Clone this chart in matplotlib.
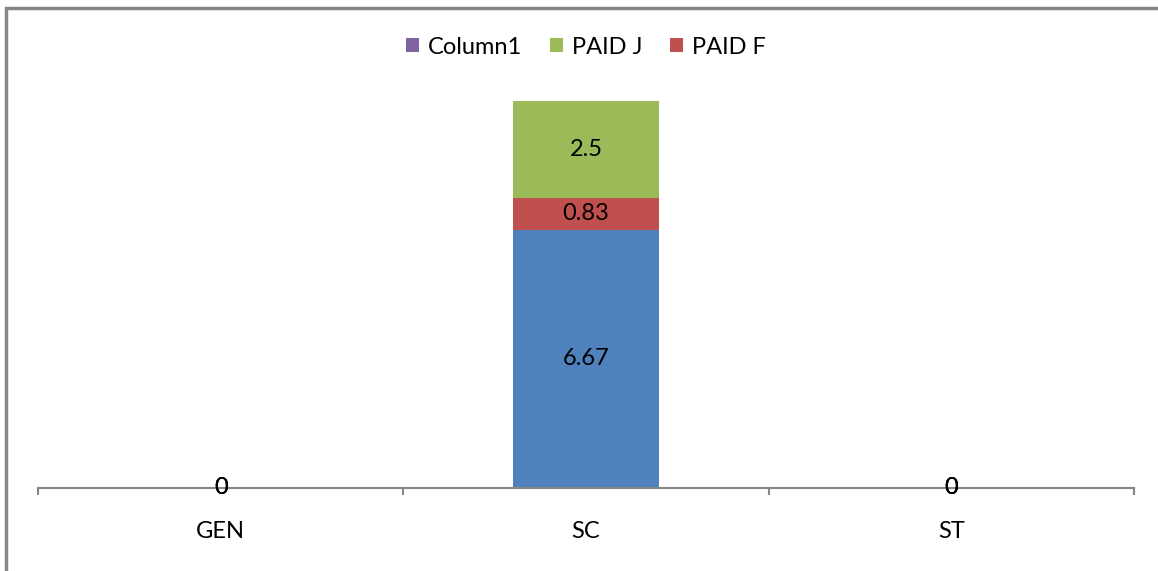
import matplotlib
matplotlib.use("Agg")
import matplotlib.pyplot as plt
from matplotlib.patches import Rectangle

plt.rcParams['font.family'] = ['Lato', 'DejaVu Sans']

# categories and stacked series
categories = ['GEN', 'SC', 'ST']
paid = [0, 6.67, 0]         # bottom segment, no legend entry
paid_f = [0, 0.83, 0]
paid_j = [0, 2.5, 0]
column1 = [0, 0, 0]

blue = '#4F81BD'
red = '#C0504D'
green = '#9BBB59'
purple = '#8064A2'
grey = '#868686'

fig = plt.figure(figsize=(11.58, 5.71), dpi=100)
ax = fig.add_axes([38 / 1158, 1 - 488 / 571, 1096 / 1158, 387 / 571])

x = list(range(len(categories)))
w = 0.4

# stack the segments
b1 = ax.bar(x, paid, w, color=blue)
bottom = [a for a in paid]
b2 = ax.bar(x, paid_f, w, bottom=bottom, color=red, label='PAID F')
bottom = [a + b for a, b in zip(bottom, paid_f)]
b3 = ax.bar(x, paid_j, w, bottom=bottom, color=green, label='PAID J')
bottom = [a + b for a, b in zip(bottom, paid_j)]
b4 = ax.bar(x, column1, w, bottom=bottom, color=purple, label='Column1')

for cont, vals in [(b1, paid), (b2, paid_f), (b3, paid_j)]:
    ax.bar_label(cont, labels=['%g' % v for v in vals], label_type='center',
                 fontsize=17, color='black')

ax.set_xlim(-0.5, len(categories) - 0.5)
ax.set_ylim(0, 10)

for s in ['left', 'right', 'top']:
    ax.spines[s].set_visible(False)
ax.spines['bottom'].set_color(grey)
ax.spines['bottom'].set_linewidth(1.5)

ax.set_yticks([])
ax.set_xticks([i - 0.5 for i in range(len(categories) + 1)])
ax.set_xticklabels([])
ax.tick_params(axis='x', which='major', direction='out', length=5,
               width=1.5, color=grey)
ax.set_xticks(x, minor=True)
ax.set_xticklabels(categories, minor=True, fontsize=17)
ax.tick_params(axis='x', which='minor', length=0, pad=24)

handles = [b4, b3, b2]
ax.legend(handles, ['Column1', 'PAID J', 'PAID F'], loc='center',
          bbox_to_anchor=(0.5, (571 - 47 - 83) / 387), ncol=3, frameon=False,
          fontsize=17, handlelength=0.55, handleheight=0.55,
          handletextpad=0.4, columnspacing=1.15)

# outer chart border
fig.patches.append(Rectangle((6 / 1158, -0.1), 1.2, (571 - 8) / 571 + 0.1,
                             transform=fig.transFigure, fill=False,
                             edgecolor=grey, linewidth=2.5))

fig.savefig('out.png', dpi=100)
